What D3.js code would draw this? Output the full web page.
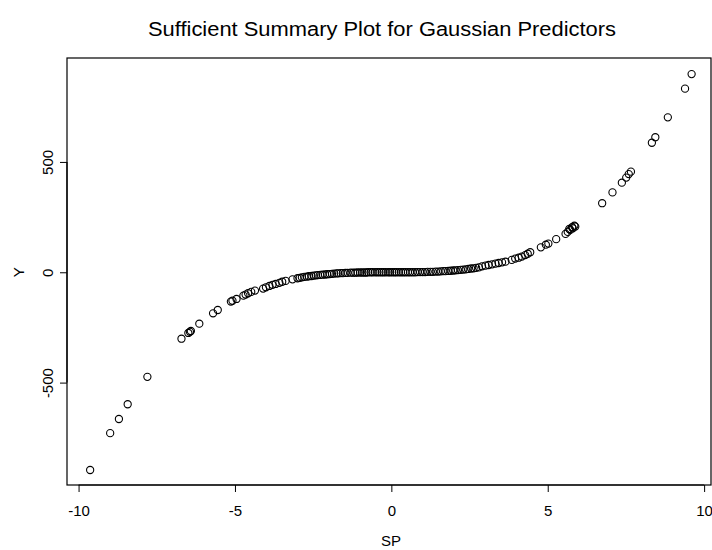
<!DOCTYPE html>
<html>
<head>
<meta charset="utf-8">
<script src="https://cdn.jsdelivr.net/npm/d3@7"></script>
<style>
  body { margin: 0; background: #fff; }
  text { font-family: "Liberation Sans", Arial, sans-serif; fill: #000; }
</style>
</head>
<body>
<script>
// chart size
var width = 712;
var height = 550;

// sufficient predictor values (x) and responses (y)
var spValues = [
  -9.63, -8.99, -8.71, -8.43, -7.80, -6.71, -6.49, -6.44, -6.41, -6.14,
  -5.70, -5.55, -5.13, -5.08, -4.95, -4.73, -4.66, -4.58, -4.48, -4.36,
  -4.10, -4.01, -3.90, -3.80, -3.70, -3.58, -3.49, -3.38, -3.16, -3.00,
  -2.93, -2.86, -2.78, -2.70, -2.64, -2.55, -2.48, -2.41, -2.35, -2.27,
  -2.20, -2.12, -2.05, -1.97, -1.90, -1.83, -1.75, -1.70, -1.62, -1.55,
  -1.47, -1.40, -1.30, -1.22, -1.15, -1.08, -1.00, -0.93, -0.86, -0.80,
  -0.74, -0.66, -0.60, -0.52, -0.45, -0.38, -0.31, -0.25, -0.18, -0.10,
  -0.04, 0.03, 0.10, 0.16, 0.24, 0.31, 0.38, 0.45, 0.53, 0.60,
  0.68, 0.76, 0.84, 0.92, 1.00, 1.08, 1.16, 1.25, 1.33, 1.42,
  1.50, 1.58, 1.66, 1.73, 1.82, 1.90, 1.98, 2.05, 2.13, 2.22,
  2.30, 2.38, 2.46, 2.55, 2.63, 2.71, 2.80, 2.90, 3.01, 3.11,
  3.22, 3.33, 3.43, 3.54, 3.65, 3.85, 3.96, 4.07, 4.17, 4.28,
  4.36, 4.44, 4.78, 4.94, 5.02, 5.27, 5.57, 5.64, 5.69, 5.72,
  5.78, 5.80, 5.85, 5.88, 6.74, 7.07, 7.37, 7.51, 7.59, 7.66,
  8.33, 8.44, 8.84, 9.39, 9.60
];
var yValues = [
  -896, -729, -665, -598, -474, -301, -275, -270, -266, -233,
  -186, -171, -133, -129, -121, -106, -101, -95, -89, -83,
  -74, -68, -62, -57, -53, -48, -43, -39, -32, -27,
  -25, -23, -21, -20, -18, -17, -15, -14, -13, -12,
  -11, -10, -9, -8, -7, -6, -5, -5, -4, -4,
  -3, -3, -2, -2, -2, -1, -1, -1, -1, -1,
  0, 0, 0, 0, 0, 0, 0, 0, 0, 0,
  0, 0, 0, 0, 0, 0, 0, 0, 0, 0,
  0, 0, 1, 1, 1, 1, 2, 2, 2, 3,
  3, 4, 5, 5, 6, 7, 8, 9, 10, 11,
  12, 13, 15, 17, 18, 20, 22, 27, 30, 33,
  36, 39, 42, 45, 48, 56, 62, 66, 71, 78,
  84, 91, 113, 125, 130, 150, 174, 183, 196, 192,
  204, 199, 211, 207, 313, 362, 406, 429, 445, 456,
  587, 612, 702, 832, 898
];
var xTicks = [-10, -5, 0, 5, 10];
var yTicks = [-500, 0, 500];

var titleText = "Sufficient Summary Plot for Gaussian Predictors";
var xLabel = "SP";
var yLabel = "Y";

// plot region (R style box)
var plotLeft = 67, plotRight = 711, plotTop = 58, plotBottom = 485;

// R writes a plain hyphen for negatives
var fmt = function(d) { return String(d); };

var svg = d3.select("body")
            .append("svg")
            .attr("width", width)
            .attr("height", height);

var x = d3.scaleLinear()
          .domain([-10.37, 10.22])
          .range([plotLeft, plotRight]);

var y = d3.scaleLinear()
          .domain([-964, 971])
          .range([plotBottom, plotTop]);

// box around the plot
svg.append("rect")
   .attr("x", plotLeft)
   .attr("y", plotTop)
   .attr("width", plotRight - plotLeft)
   .attr("height", plotBottom - plotTop)
   .attr("fill", "none")
   .attr("stroke", "#000")
   .attr("stroke-width", 1.2);

// x axis
var xAxis = svg.append("g")
   .attr("transform", "translate(0," + plotBottom + ")")
   .call(d3.axisBottom(x).tickValues(xTicks).tickSize(7).tickFormat(fmt));
xAxis.select(".domain")
     .attr("d", "M" + x(-10) + ",0H" + x(10))
     .attr("stroke-width", 1.2);
xAxis.selectAll("text")
     .attr("y", 31).attr("dy", null)
     .style("font-size", "15px")
     .attr("font-family", "Liberation Sans, Arial, sans-serif");

// y axis with rotated labels
var yAxis = svg.append("g")
   .attr("transform", "translate(" + plotLeft + ",0)")
   .call(d3.axisLeft(y).tickValues(yTicks).tickSize(7).tickFormat(fmt));
yAxis.select(".domain")
     .attr("d", "M0," + y(-500) + "V" + y(500))
     .attr("stroke-width", 1.2);
yAxis.selectAll("text")
     .attr("x", 0).attr("y", 0).attr("dy", null)
     .attr("text-anchor", "middle")
     .attr("transform", "translate(-14,0) rotate(-90)")
     .style("font-size", "15px")
     .attr("font-family", "Liberation Sans, Arial, sans-serif");

// points
svg.append("g")
   .selectAll("circle")
   .data(spValues)
   .enter()
   .append("circle")
   .attr("cx", function(d) { return x(d); })
   .attr("cy", function(d, i) { return y(yValues[i]); })
   .attr("r", 3.6)
   .attr("fill", "none")
   .attr("stroke", "#000")
   .attr("stroke-width", 1.1);

// title and axis labels
svg.append("text")
   .attr("x", 382)
   .attr("y", 36)
   .attr("text-anchor", "middle")
   .attr("textLength", 468)
   .attr("lengthAdjust", "spacingAndGlyphs")
   .style("font-size", "20px")
   .text(titleText);

svg.append("text")
   .attr("x", 391)
   .attr("y", 546)
   .attr("text-anchor", "middle")
   .style("font-size", "15px")
   .text(xLabel);

svg.append("text")
   .attr("transform", "translate(24," + y(0) + ") rotate(-90)")
   .attr("text-anchor", "middle")
   .style("font-size", "15px")
   .text(yLabel);
</script>
</body>
</html>
